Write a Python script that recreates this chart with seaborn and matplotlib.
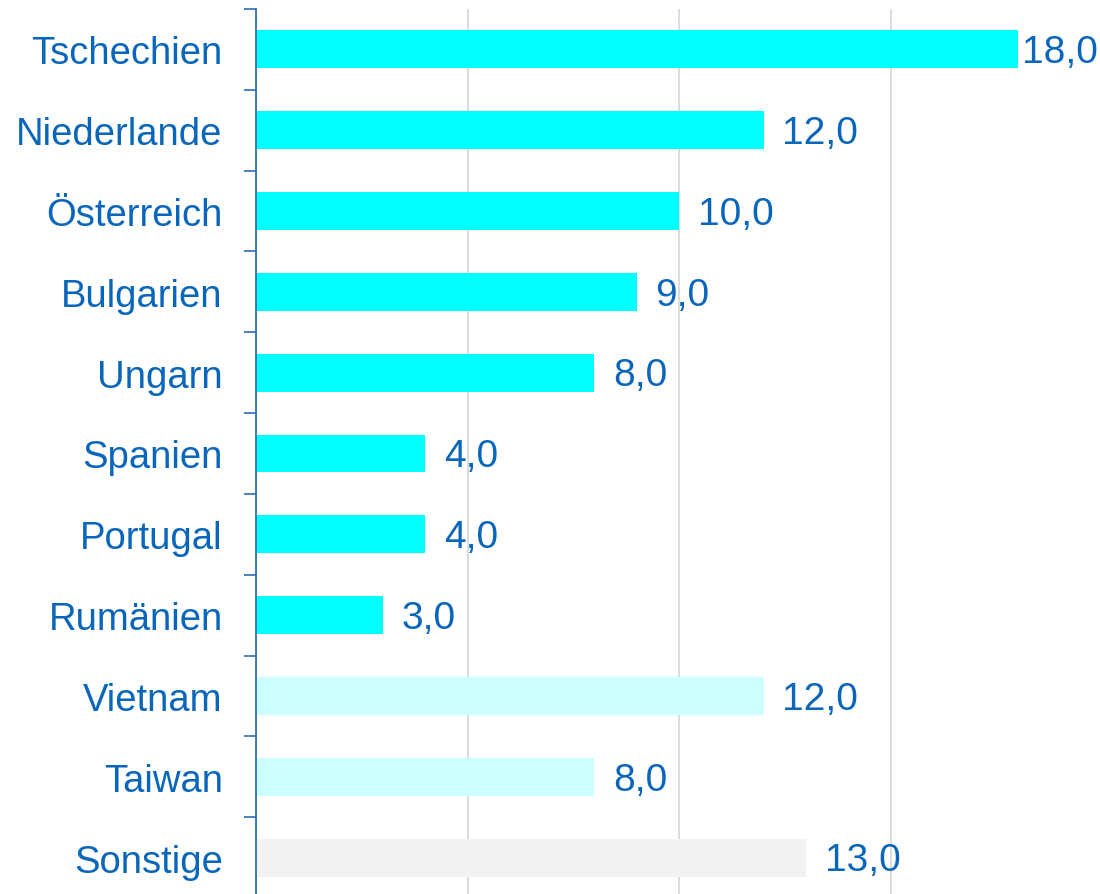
import matplotlib
matplotlib.use("Agg")
import matplotlib.pyplot as plt
import seaborn as sns
import pandas as pd
import numpy as np

categories = ["Tschechien", "Niederlande", "Österreich", "Bulgarien", "Ungarn",
              "Spanien", "Portugal", "Rumänien", "Vietnam", "Taiwan", "Sonstige"]
values = [18.0, 12.0, 10.0, 9.0, 8.0, 4.0, 4.0, 3.0, 12.0, 8.0, 13.0]
bar_colors = ["#00FFFF"] * 8 + ["#CCFFFF"] * 2 + ["#F2F2F2"]

sns.set_theme(style="white")
plt.rcParams["font.family"] = ["Liberation Sans", "DejaVu Sans"]

text_color = "#0A66BA"
axis_color = "#2E6FB7"

df = pd.DataFrame({"cat": categories, "val": values})

fig = plt.figure(figsize=(11, 8.95), dpi=100)
ax = fig.add_axes([256 / 1100, -4 / 895, 1 - 256 / 1100, 889 / 895])

sns.barplot(data=df, x="val", y="cat", hue="cat", palette=bar_colors,
            orient="h", width=0.47, legend=False, ax=ax, zorder=3,
            linewidth=0, saturation=1)

xmax = 19.95
ax.set_xlim(0, xmax)
ax.set_ylim(len(categories) - 0.5, -0.5)

ax.set_xticks([0, 5, 10, 15])
ax.xaxis.grid(True, color="#D9D9D9", linewidth=1.3, zorder=0)
ax.yaxis.grid(False)
ax.tick_params(axis="x", length=0, labelbottom=False)
ax.set_xlabel("")
ax.set_ylabel("")

ax.set_yticks(range(len(categories)))
ax.set_yticklabels(categories)
ax.set_yticks(np.arange(-0.5, len(categories), 1.0), minor=True)
ax.tick_params(axis="y", which="major", length=0, pad=24, labelsize=27.5,
               labelcolor=text_color)
ax.tick_params(axis="y", which="minor", length=8.6, width=1.2, color=axis_color,
               direction="out", left=True)

for s in ["top", "right", "bottom"]:
    ax.spines[s].set_visible(False)
ax.spines["left"].set_color(axis_color)
ax.spines["left"].set_linewidth(1.3)
ax.spines["left"].set_zorder(5)

for i, v in enumerate(values):
    label = f"{v:.1f}".replace(".", ",")
    off = 13.5
    if v + 2.2 > xmax:
        off = 3
    ax.annotate(label, xy=(v, i), xytext=(off, -2), textcoords="offset points",
                va="center", ha="left", fontsize=28, color=text_color,
                annotation_clip=False)

fig.savefig("out.png", dpi=100)
